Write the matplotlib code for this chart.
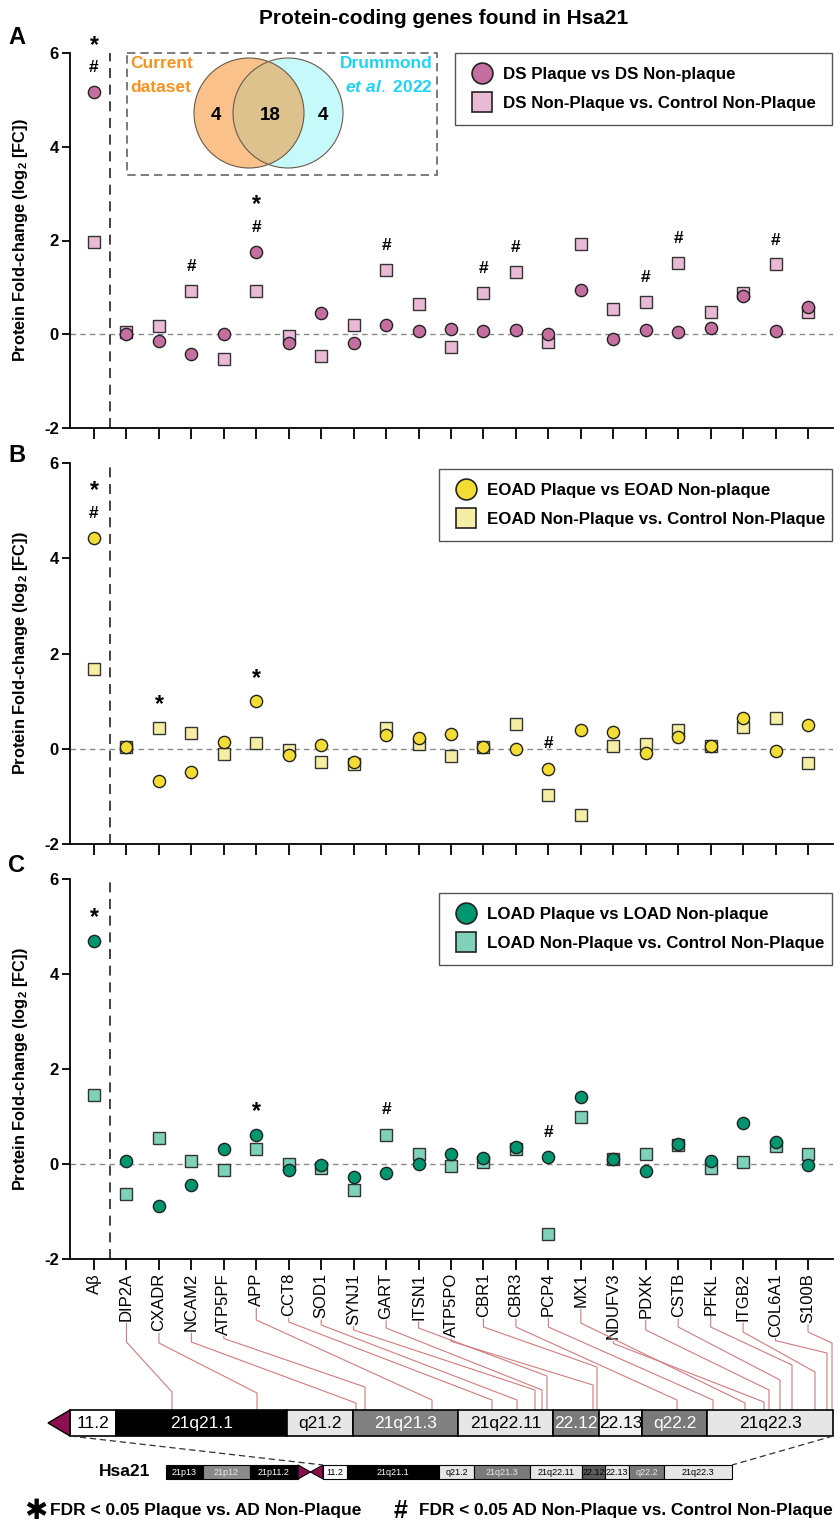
import matplotlib
matplotlib.use("Agg")
import matplotlib.pyplot as plt
from matplotlib.patches import Circle, Rectangle, Polygon
from matplotlib.lines import Line2D

plt.rcParams['font.family'] = ['Liberation Sans', 'DejaVu Sans']
plt.rcParams['mathtext.fontset'] = 'custom'
plt.rcParams['mathtext.rm'] = 'Liberation Sans'
plt.rcParams['mathtext.bf'] = 'Liberation Sans:bold'
plt.rcParams['mathtext.it'] = 'Liberation Sans:italic:bold'

# ---------------- data ----------------
genes = ["Aβ", "DIP2A", "CXADR", "NCAM2", "ATP5PF", "APP", "CCT8", "SOD1", "SYNJ1",
         "GART", "ITSN1", "ATP5PO", "CBR1", "CBR3", "PCP4", "MX1", "NDUFV3", "PDXK",
         "CSTB", "PFKL", "ITGB2", "COL6A1", "S100B"]

ds_plaque = [5.16, 0.00, -0.14, -0.43, 0.01, 1.76, -0.19, 0.46, -0.19, 0.19, 0.06, 0.11,
             0.06, 0.09, 0.01, 0.95, -0.11, 0.09, 0.05, 0.13, 0.81, 0.06, 0.59]
ds_nonplaque = [1.97, 0.04, 0.18, 0.92, -0.52, 0.92, -0.04, -0.46, 0.19, 1.37, 0.64, -0.28,
                0.88, 1.33, -0.16, 1.92, 0.53, 0.69, 1.53, 0.48, 0.87, 1.49, 0.48]
eoad_plaque = [4.42, 0.04, -0.67, -0.48, 0.14, 1.00, -0.13, 0.08, -0.27, 0.29, 0.23, 0.30,
               0.04, 0.00, -0.42, 0.40, 0.35, -0.08, 0.25, 0.06, 0.65, -0.04, 0.49]
eoad_nonplaque = [1.68, 0.04, 0.44, 0.34, -0.12, 0.13, -0.02, -0.28, -0.32, 0.44, 0.11, -0.15,
                  0.04, 0.51, -0.97, -1.40, 0.05, 0.09, 0.39, 0.05, 0.46, 0.65, -0.30]
load_plaque = [4.70, 0.07, -0.88, -0.44, 0.31, 0.62, -0.13, -0.02, -0.27, -0.18, 0.00, 0.21,
               0.13, 0.35, 0.15, 1.42, 0.10, -0.14, 0.42, 0.06, 0.86, 0.46, -0.02]
load_nonplaque = [1.45, -0.63, 0.54, 0.07, -0.13, 0.32, 0.01, -0.09, -0.55, 0.62, 0.21, -0.04,
                  0.05, 0.32, -1.47, 0.98, 0.10, 0.21, 0.39, -0.09, 0.04, 0.38, 0.21]

ds_star = ["Aβ", "APP"]
ds_hash = ["Aβ", "NCAM2", "APP", "GART", "CBR1", "CBR3", "PDXK", "CSTB", "COL6A1"]
eoad_star = ["Aβ", "CXADR", "APP"]
eoad_hash = ["Aβ", "PCP4"]
load_star = ["Aβ", "APP"]
load_hash = ["GART", "PCP4"]

venn_current_only = 4
venn_both = 18
venn_drummond_only = 4

yticks = [-2, 0, 2, 4, 6]

# chromosome schematic (pixel layout)
main_bands = [("11.2", 70, 116, "white", "black"),
              ("21q21.1", 116, 287, "black", "white"),
              ("q21.2", 287, 353, "#e6e6e6", "black"),
              ("21q21.3", 353, 458, "#808080", "white"),
              ("21q22.11", 458, 553, "#e6e6e6", "black"),
              ("22.12", 553, 599, "#7a7a7a", "white"),
              ("22.13", 599, 642, "#f0f0f0", "black"),
              ("q22.2", 642, 707, "#7a7a7a", "white"),
              ("21q22.3", 707, 833, "#e6e6e6", "black")]
small_bands = [("21p13", 166, 203, "black", "white"),
               ("21p12", 203, 250, "#8a8a8a", "#e8e8e8"),
               ("21p11.2", 250, 298, "black", "white"),
               ("11.2", 323, 347, "white", "black"),
               ("21q21.1", 347, 439, "black", "white"),
               ("q21.2", 439, 474, "#e6e6e6", "black"),
               ("21q21.3", 474, 530, "#7a7a7a", "#e8e8e8"),
               ("21q22.11", 530, 582, "#e6e6e6", "black"),
               ("22.12", 582, 605, "#5a5a5a", "black"),
               ("22.13", 605, 629, "#e6e6e6", "black"),
               ("q22.2", 629, 664, "#7a7a7a", "#e8e8e8"),
               ("21q22.3", 664, 732, "#e6e6e6", "black")]
gene_band_x = [172, 257, 356, 365, 432, 492, 517, 535, 542, 547, 593, 597,
               677, 713, 745, 764, 769, 780, 792, 815, 827, 832]
elbow_top = [1342, 1343, 1342, 1338, 1320, 1322, 1325, 1330, 1328, 1328, 1335, 1327,
             1327, 1327, 1323, 1337, 1330, 1327, 1327, 1332, 1334, 1332]
elbow_bot = [1392, 1393, 1403, 1387, 1400, 1400, 1400, 1390, 1390, 1376, 1385, 1367,
             1400, 1400, 1403, 1402, 1390, 1380, 1365, 1372, 1353, 1343]

# ---------------- figure ----------------
W, H = 840, 1522
fig = plt.figure(figsize=(W / 100, H / 100), dpi=100)


def px_axes(x0, y_top, x1, y_bot):
    return fig.add_axes([x0 / W, 1 - y_bot / H, (x1 - x0) / W, (y_bot - y_top) / H])


axA = px_axes(70, 53, 833, 428)
axB = px_axes(70, 463, 833, 844)
axC = px_axes(70, 879, 833, 1259)

panels = [
    (axA, ds_plaque, ds_nonplaque, ds_star, ds_hash, "#C56FA0", "#EAB9D5",
     "DS Plaque vs DS Non-plaque", "DS Non-Plaque vs. Control Non-Plaque", (0.505, 0.0, 0.494, 1.0)),
    (axB, eoad_plaque, eoad_nonplaque, eoad_star, eoad_hash, "#F3DC34", "#F6EEA4",
     "EOAD Plaque vs EOAD Non-plaque", "EOAD Non-Plaque vs. Control Non-Plaque", (0.484, 0.0, 0.515, 0.984)),
    (axC, load_plaque, load_nonplaque, load_star, load_hash, "#00966F", "#7FD1BA",
     "LOAD Plaque vs LOAD Non-plaque", "LOAD Non-Plaque vs. Control Non-Plaque", (0.484, 0.0, 0.515, 0.963)),
]

x = list(range(len(genes)))
for k, (ax, plq, nonp, stars, hashes, ccol, scol, lab1, lab2, bbox) in enumerate(panels):
    ax.set_xlim(-0.74, 22.77)
    ax.set_ylim(-2, 6)
    for s in ["top", "right"]:
        ax.spines[s].set_visible(False)
    for s in ["left", "bottom"]:
        ax.spines[s].set_linewidth(1.3)
    ax.set_yticks(yticks)
    ax.set_yticklabels([str(v) for v in yticks], fontsize=12, fontweight="bold")
    ax.tick_params(axis="y", length=6, width=1.3, pad=2)
    ax.tick_params(axis="x", length=8, width=1.3, pad=2)
    ax.set_xticks(x)
    if k < 2:
        ax.set_xticklabels([])
    else:
        ax.set_xticklabels(genes, rotation=90, fontsize=12)
    ax.set_ylabel(r"Protein Fold-change (log$_{\mathbf{2}}$ [FC])", fontsize=11.8, fontweight="bold")
    ax.yaxis.set_label_coords(-0.052, 0.5)
    ax.axhline(0, color="#8a8a8a", ls=(0, (4, 3)), lw=1.0, zorder=1)
    ax.axvline(0.5, color="#222222", ls=(0, (6, 4)), lw=1.2, zorder=1)
    ax.plot(x, nonp, ls="none", marker="s", ms=8.3, mfc=scol, mec="#333333", mew=1.0,
            zorder=3, clip_on=False)
    ax.plot(x, plq, ls="none", marker="o", ms=8.8, mfc=ccol, mec="#222222", mew=1.0,
            zorder=4, clip_on=False)
    for i, g in enumerate(genes):
        stack = []
        if g in hashes:
            stack.append(("#", 12.5))
        if g in stars:
            stack.append(("*", 16.5))
        base = max(plq[i], nonp[i]) + 0.52
        for j, (sym, fs) in enumerate(stack):
            yy = base + 0.48 * j
            if sym == "*" and j == 0:
                yy -= 0.04
            ax.text(i, yy, sym, ha="center", va="center", fontsize=fs, fontweight="bold",
                    clip_on=False, zorder=5)
    h1 = Line2D([], [], ls="none", marker="o", ms=15, mfc=ccol, mec="#222222", mew=1.2)
    h2 = Line2D([], [], ls="none", marker="s", ms=14, mfc=scol, mec="#222222", mew=1.2)
    leg = ax.legend([h1, h2], [lab1, lab2], loc="upper left", bbox_to_anchor=bbox, mode="expand",
                    borderaxespad=0, prop={"weight": "bold", "size": 12.2}, frameon=True,
                    fancybox=False, edgecolor="#555555", framealpha=1, labelspacing=0.85,
                    borderpad=0.8, handlelength=1.5, handletextpad=0.5)
    leg.get_frame().set_linewidth(1.0)
    leg.set_zorder(6)

# ---------------- overlay (pixel coordinates) ----------------
ov = fig.add_axes([0, 0, 1, 1])
ov.set_xlim(0, W)
ov.set_ylim(H, 0)
ov.axis("off")
ov.patch.set_alpha(0)
ov.set_zorder(10)

ov.text(444, 18, "Protein-coding genes found in Hsa21", ha="center", va="center",
        fontsize=15, fontweight="bold", family=["Liberation Sans Narrow", "Liberation Sans"])
for lab, yy in [("A", 38), ("B", 455), ("C", 866)]:
    ov.text(8, yy, lab, ha="left", va="center", fontsize=17, fontweight="bold")

# Venn inset
ov.add_patch(Rectangle((127, 53), 310, 122, fill=False, ls=(0, (5, 3)), ec="#666666", lw=1.2))
c1 = Circle((249, 113), 55, fc="#FBC18A", ec="none")
c2 = Circle((288, 113), 55, fc="#C6FAFA", ec="none")
ov.add_patch(c1)
ov.add_patch(c2)
ovl = Circle((249, 113), 55, fc="#DDC28D", ec="none")
ov.add_patch(ovl)
ovl.set_clip_path(c2)
ov.add_patch(Circle((249, 113), 55, fill=False, ec="#6b5a4a", lw=0.8))
ov.add_patch(Circle((288, 113), 55, fill=False, ec="#6b5a4a", lw=0.8))
ov.text(130, 64, "Current", color="#F7931E", fontweight="bold", fontsize=12.5, ha="left", va="center")
ov.text(130, 87, "dataset", color="#F7931E", fontweight="bold", fontsize=12.5, ha="left", va="center")
ov.text(433, 64, "Drummond", color="#1ED4F5", fontweight="bold", fontsize=12.5, ha="right", va="center")
ov.text(433, 87, r"$et\ al.$ 2022", color="#1ED4F5", fontweight="bold", fontsize=12.5, ha="right", va="center")
ov.text(216, 115, str(venn_current_only), fontweight="bold", fontsize=13.5, ha="center", va="center")
ov.text(270, 115, str(venn_both), fontweight="bold", fontsize=13.5, ha="center", va="center")
ov.text(323, 115, str(venn_drummond_only), fontweight="bold", fontsize=13.5, ha="center", va="center")

# main chromosome bar
bt, bb = 1410, 1436
for lab, x0, x1, fc, tc in main_bands:
    ov.add_patch(Rectangle((x0, bt), x1 - x0, bb - bt, fc=fc, ec="black", lw=1.2))
    ov.text((x0 + x1) / 2, (bt + bb) / 2 + 0.5, lab, color=tc, fontsize=12.5, ha="center", va="center")
ov.add_patch(Polygon([(70, bt), (70, bb), (48, (bt + bb) / 2)], closed=True, fc="#8C0F50", ec="black", lw=1))

# small chromosome bar
st, sb = 1465, 1479
for lab, x0, x1, fc, tc in small_bands:
    ov.add_patch(Rectangle((x0, st), x1 - x0, sb - st, fc=fc, ec="black", lw=0.8))
    ov.text((x0 + x1) / 2, (st + sb) / 2 + 0.3, lab, color=tc, fontsize=6.5, ha="center", va="center")
ov.add_patch(Polygon([(298, st), (298, sb), (310.5, (st + sb) / 2)], closed=True, fc="#8C0F50", ec="black", lw=0.8))
ov.add_patch(Polygon([(323, st), (323, sb), (310.5, (st + sb) / 2)], closed=True, fc="#8C0F50", ec="black", lw=0.8))
ov.text(150, 1472, "Hsa21", fontweight="bold", fontsize=12.5, ha="right", va="center")
ov.plot([70, 323], [bb, st], color="#333333", lw=0.9, ls=(0, (5, 3)))
ov.plot([833, 732], [bb, st], color="#333333", lw=0.9, ls=(0, (5, 3)))

# connectors from gene labels to chromosome bands
fig.canvas.draw()
tlabels = axC.get_xticklabels()
for j in range(1, len(genes)):
    xl = axC.transData.transform((j, 0))[0]
    ext = tlabels[j].get_window_extent()
    lab_bottom = H - ext.y0 + 2
    tx = gene_band_x[j - 1]
    yt = max(elbow_top[j - 1], lab_bottom + 2)
    yb = elbow_bot[j - 1]
    ov.plot([xl, xl, tx, tx], [lab_bottom, yt, yb, bt], color="#D27B7D", lw=0.8, zorder=0)

# footer
ov.text(36, 1511, "✱", fontsize=20, fontweight="bold", ha="center", va="center", family=["DejaVu Sans"])
ov.text(50, 1511, "FDR < 0.05 Plaque vs. AD Non-Plaque", fontsize=12.5, fontweight="bold", ha="left", va="center")
ov.text(401, 1511, "#", fontsize=18, fontweight="bold", ha="center", va="center")
ov.text(419, 1511, "FDR < 0.05 AD Non-Plaque vs. Control Non-Plaque", fontsize=12.4, fontweight="bold",
        ha="left", va="center")

fig.savefig("out.png", dpi=100)
